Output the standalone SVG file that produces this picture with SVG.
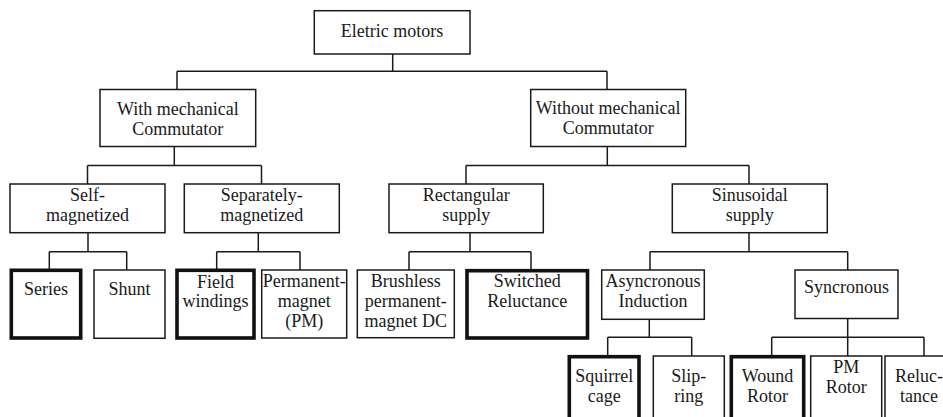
<svg xmlns="http://www.w3.org/2000/svg" width="943" height="417" viewBox="0 0 943 417">
<style>
.box{fill:#fff;stroke:#1a1a1a;stroke-width:1.5}
.thick{fill:#fff;stroke:#111;stroke-width:3.6}
text{font-family:"Liberation Serif","Times New Roman",serif;font-size:18px;fill:#1a1a1a;text-anchor:middle}
.con{fill:none;stroke:#1a1a1a;stroke-width:1.5}
</style>
<rect width="943" height="417" fill="#fff"/>
<g id="connectors" class="con">
<path d="M392.7,54 V71.3 M177,71.3 H607 M177,71.3 V89.5 M607,71.3 V89.5"/>
<path d="M174.3,146.5 V165.5 M87.5,165.5 H261.5 M87.5,165.5 V184 M261.5,165.5 V184"/>
<path d="M607.3,146.5 V165.5 M466,165.5 H749 M466,165.5 V184 M749,165.5 V184"/>
<path d="M88,232.7 V251.7 M49.3,251.7 H126.7 M49.3,251.7 V270 M126.7,251.7 V270"/>
<path d="M258.3,232.7 V251.7 M216.7,251.7 H300 M216.7,251.7 V270 M300,251.7 V270"/>
<path d="M470,232.7 V251.7 M409,251.7 H531 M409,251.7 V270 M531,251.7 V270"/>
<path d="M749,232.7 V251.7 M650,251.7 H847.7 M650,251.7 V270 M847.7,251.7 V270"/>
<path d="M649.3,319.3 V337.3 M607.7,337.3 H691.7 M607.7,337.3 V356 M691.7,337.3 V356"/>
<path d="M847.7,318.5 V356 M771.7,337.3 H924 M771.7,337.3 V356 M924,337.3 V356"/>
</g>
<g id="n-eletric"><rect class="box" x="314.3" y="10.7" width="155.7" height="43.3"/><text x="392" y="37">Eletric motors</text></g>
<g id="n-with"><rect class="box" x="100" y="89.5" width="155.7" height="57"/><text x="177.8" y="114.5">With mechanical</text><text x="177.8" y="134.5">Commutator</text></g>
<g id="n-without"><rect class="box" x="530.7" y="89.5" width="155" height="57"/><text x="608.2" y="113.5">Without mechanical</text><text x="608.2" y="133.5">Commutator</text></g>
<g id="n-self"><rect class="box" x="10" y="184" width="155" height="48.7"/><text x="87.5" y="201.2">Self-</text><text x="87.5" y="221.2">magnetized</text></g>
<g id="n-sep"><rect class="box" x="184.3" y="184" width="155" height="48.7"/><text x="261.8" y="201.2">Separately-</text><text x="261.8" y="221.2">magnetized</text></g>
<g id="n-rect"><rect class="box" x="389" y="184" width="154.3" height="48.7"/><text x="466.2" y="200.5">Rectangular</text><text x="466.2" y="220.5">supply</text></g>
<g id="n-sin"><rect class="box" x="672.3" y="184" width="155" height="48.7"/><text x="749.8" y="200.5">Sinusoidal</text><text x="749.8" y="220.5">supply</text></g>
<g id="n-series"><rect class="thick" x="11.3" y="270.3" width="69.4" height="67.7"/><text x="46" y="295">Series</text></g>
<g id="n-shunt"><rect class="box" x="94" y="270" width="71" height="68.3"/><text x="129.5" y="295">Shunt</text></g>
<g id="n-field"><rect class="thick" x="177" y="270.3" width="77" height="67.7"/><text x="215.5" y="288">Field</text><text x="215.5" y="307">windings</text></g>
<g id="n-pm"><rect class="box" x="261.7" y="270" width="85" height="68"/><text x="304.2" y="287">Permanent-</text><text x="304.2" y="307">magnet</text><text x="304.2" y="327">(PM)</text></g>
<g id="n-brushless"><rect class="box" x="357.3" y="270" width="97" height="67.7"/><text x="405.8" y="287">Brushless</text><text x="405.8" y="307">permanent-</text><text x="405.8" y="327">magnet DC</text></g>
<g id="n-switched"><rect class="thick" x="467" y="270.7" width="120.5" height="67.3"/><text x="527.2" y="287">Switched</text><text x="527.2" y="307">Reluctance</text></g>
<g id="n-async"><rect class="box" x="601.7" y="270" width="102.6" height="49.3"/><text x="653" y="286.7">Asyncronous</text><text x="653" y="306.7">Induction</text></g>
<g id="n-sync"><rect class="box" x="795" y="270" width="103" height="48.5"/><text x="846.5" y="293.3">Syncronous</text></g>
<g id="n-squirrel"><rect class="thick" x="569.3" y="356.7" width="69.7" height="70"/><text x="604.2" y="381.7">Squirrel</text><text x="604.2" y="401.7">cage</text></g>
<g id="n-slip"><rect class="box" x="653.3" y="356" width="71" height="70"/><text x="688.8" y="381.7">Slip-</text><text x="688.8" y="401.7">ring</text></g>
<g id="n-wound"><rect class="thick" x="731.3" y="356.7" width="72.4" height="70"/><text x="767.5" y="381.7">Wound</text><text x="767.5" y="401.7">Rotor</text></g>
<g id="n-pmrotor"><rect class="box" x="810.7" y="356" width="71" height="70"/><text x="846.2" y="373.3">PM</text><text x="846.2" y="393.3">Rotor</text></g>
<g id="n-reluct"><rect class="box" x="885" y="356" width="70" height="70"/><text x="919" y="381.7">Reluc-</text><text x="919" y="401.7">tance</text></g>
</svg>
